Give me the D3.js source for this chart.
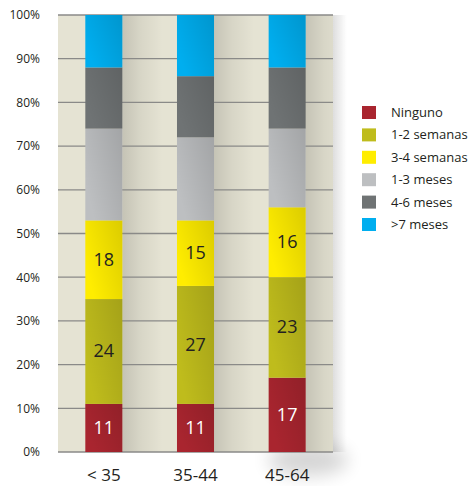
<!DOCTYPE html>
<html>
<head>
<meta charset="utf-8">
<script src="https://cdn.jsdelivr.net/npm/d3@7"></script>
<style>
  html, body { margin: 0; padding: 0; background: #ffffff; }
  svg { display: block; font-family: "Open Sans", "Noto Sans", sans-serif; }
</style>
</head>
<body>
<svg id="chart" width="475" height="486"></svg>
<script>
// Age groups along the x axis
const categories = ["< 35", "35-44", "45-64"];

// Response categories (stack order, bottom to top)
const seriesNames = ["Ninguno", "1-2 semanas", "3-4 semanas", "1-3 meses", "4-6 meses", ">7 meses"];

// Percentages per age group
const ninguno    = [11, 11, 17];
const semanas12  = [24, 27, 23];
const semanas34  = [18, 15, 16];
const meses13    = [21, 19, 18];
const meses46    = [14, 14, 14];
const meses7     = [12, 14, 12];

// Series that carry a value label inside the bar
const labeledSeries = ["Ninguno", "1-2 semanas", "3-4 semanas"];

// Y axis ticks
const yTicks = [0, 10, 20, 30, 40, 50, 60, 70, 80, 90, 100];

const seriesColors = ["#a9252f", "#bfbc1c", "#ffed00", "#bdbfc1", "#6f7374", "#00aeef"];

const seriesValues = [ninguno, semanas12, semanas34, meses13, meses46, meses7];
const rows = categories.map((c, i) => {
  const r = { cat: c };
  seriesNames.forEach((s, j) => { r[s] = seriesValues[j][i]; });
  return r;
});

const svg = d3.select("#chart");
const plot = { left: 58, right: 333, top: 15, bottom: 452 };

const x = d3.scaleBand().domain(categories)
  .range([plot.left, plot.right]).paddingInner(0.596).paddingOuter(0.298);
const y = d3.scaleLinear().domain([0, 100]).range([plot.bottom, plot.top]);
const color = d3.scaleOrdinal().domain(seriesNames).range(seriesColors);

const defs = svg.append("defs");

// soft shadow to the right of each bar
const sh = defs.append("linearGradient").attr("id", "barShadow");
sh.append("stop").attr("offset", "0%").attr("stop-color", "#000").attr("stop-opacity", 0.14);
sh.append("stop").attr("offset", "45%").attr("stop-color", "#000").attr("stop-opacity", 0.06);
sh.append("stop").attr("offset", "100%").attr("stop-color", "#000").attr("stop-opacity", 0);

// shadow along the right edge of the plot area
const rs = defs.append("linearGradient").attr("id", "rightShadow");
rs.append("stop").attr("offset", "0%").attr("stop-color", "#000").attr("stop-opacity", 0.10);
rs.append("stop").attr("offset", "100%").attr("stop-color", "#000").attr("stop-opacity", 0);

// slight shading across each bar segment
const seg = defs.append("linearGradient").attr("id", "segShade")
  .attr("x1", "100%").attr("y1", "0%").attr("x2", "0%").attr("y2", "60%");
seg.append("stop").attr("offset", "0%").attr("stop-color", "#000").attr("stop-opacity", 0.14);
seg.append("stop").attr("offset", "100%").attr("stop-color", "#000").attr("stop-opacity", 0);

defs.append("filter").attr("id", "blur").attr("x", "-50%").attr("y", "-50%")
  .attr("width", "200%").attr("height", "200%")
  .append("feGaussianBlur").attr("stdDeviation", 9);

// drop shadow under bottom-right corner
svg.append("ellipse")
  .attr("cx", plot.right - 25).attr("cy", plot.bottom + 8)
  .attr("rx", 40).attr("ry", 16)
  .attr("fill", "#000").attr("opacity", 0.16)
  .attr("filter", "url(#blur)");

svg.append("rect")
  .attr("x", plot.right).attr("y", plot.top)
  .attr("width", 14).attr("height", plot.bottom - plot.top)
  .attr("fill", "url(#rightShadow)");

// plot background
svg.append("rect")
  .attr("x", plot.left).attr("y", plot.top)
  .attr("width", plot.right - plot.left).attr("height", plot.bottom - plot.top)
  .attr("fill", "#e5e3d3");

// bar shadows on background
svg.append("g").selectAll("rect").data(categories).join("rect")
  .attr("x", d => x(d) + x.bandwidth())
  .attr("y", plot.top)
  .attr("width", 40)
  .attr("height", plot.bottom - plot.top)
  .attr("fill", "url(#barShadow)");

// gridlines
svg.append("g").selectAll("line").data(yTicks).join("line")
  .attr("x1", plot.left).attr("x2", plot.right)
  .attr("y1", d => y(d)).attr("y2", d => y(d))
  .attr("stroke", "#8a8a88").attr("stroke-width", 1.3);

// stacked bars
const stacked = d3.stack().keys(seriesNames)(rows);

const layers = svg.append("g").selectAll("g").data(stacked).join("g")
  .attr("fill", d => color(d.key));

layers.selectAll("rect").data(d => d).join("rect")
  .attr("x", d => x(d.data.cat))
  .attr("y", d => y(d[1]))
  .attr("width", x.bandwidth())
  .attr("height", d => y(d[0]) - y(d[1]));

layers.selectAll("rect.shade").data(d => d).join("rect")
  .attr("class", "shade")
  .attr("x", d => x(d.data.cat))
  .attr("y", d => y(d[1]))
  .attr("width", x.bandwidth())
  .attr("height", d => y(d[0]) - y(d[1]))
  .attr("fill", "url(#segShade)");

// value labels inside the lower segments
const labelLayers = stacked.filter(s => labeledSeries.includes(s.key));
svg.append("g").selectAll("g").data(labelLayers).join("g")
  .attr("fill", d => d.key === "Ninguno" ? "#ffffff" : "#231f20")
  .selectAll("text").data(d => d).join("text")
  .attr("x", d => x(d.data.cat) + x.bandwidth() / 2)
  .attr("y", d => (y(d[0]) + y(d[1])) / 2 - 1)
  .attr("text-anchor", "middle")
  .attr("dominant-baseline", "central")
  .attr("font-size", 18)
  .text(d => d[1] - d[0]);

// y axis labels
const yAxis = svg.append("g")
  .attr("transform", `translate(${plot.left},0)`)
  .call(d3.axisLeft(y).tickValues(yTicks).tickSize(0).tickPadding(18)
    .tickFormat(d => d + "%"));
yAxis.select(".domain").remove();
yAxis.selectAll("text").attr("font-size", 12).attr("fill", "#231f20")
  .attr("font-family", "'Open Sans', 'Noto Sans', sans-serif");

// x axis labels
const xAxis = svg.append("g")
  .attr("transform", `translate(0,${plot.bottom})`)
  .call(d3.axisBottom(x).tickSize(0));
xAxis.select(".domain").remove();
xAxis.selectAll("text")
  .attr("y", 23).attr("dy", "0.35em")
  .attr("font-size", 17).attr("fill", "#231f20")
  .attr("font-family", "'Open Sans', 'Noto Sans', sans-serif");

// legend
const legend = svg.append("g").attr("transform", "translate(362,106)");
const items = legend.selectAll("g").data(seriesNames).join("g")
  .attr("transform", (d, i) => `translate(0,${i * 22.4})`);
items.append("rect").attr("width", 14).attr("height", 13).attr("fill", d => color(d));
items.append("text")
  .attr("x", 29).attr("y", 6.5).attr("dy", "0.35em")
  .attr("font-size", 13).attr("fill", "#231f20")
  .text(d => d);
</script>
</body>
</html>
